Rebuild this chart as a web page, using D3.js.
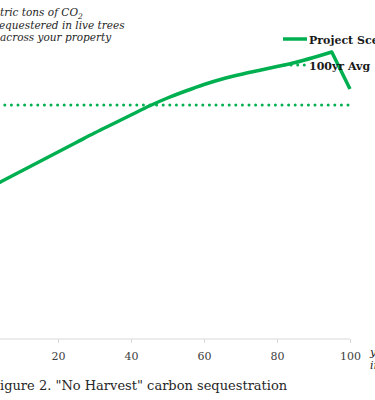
<!DOCTYPE html>
<html lang="en">
  <head>
    <meta charset="utf-8">
    <title>No Harvest carbon sequestration</title>
    <script src="https://d3js.org/d3.v7.js"></script>
    <style>
      body { margin: 0; background: #fff; }
      svg { display: block; }
      text { font-family: Georgia, "DejaVu Serif", serif; }
    </style>
  </head>

  <body>

  <script>

// Data (metric tons of CO2, every 5 years)

  var years = [0, 5, 10, 15, 20, 25, 30, 35, 40, 45, 50, 55, 60, 65, 70, 75, 80, 85, 90, 95, 100];
  var scenario = [2980, 3170, 3360, 3550, 3740, 3930, 4120, 4300, 4480, 4660, 4820,
                  4960, 5090, 5200, 5290, 5370, 5450, 5530, 5630, 5740, 5000];
  var avg100 = 4680;
  var xTicks = [20, 40, 60, 80, 100];
  var legendLabels = ["Project Scenario", "100yr Avg"];

  var w = 375;
  var h = 400;
  var green = "#00b050";

  // the picture is a crop of a wider chart, so the plot starts left of the frame
  var xScale = d3.scaleLinear()
      .domain([0, 100])
      .range([-15, 350]);

  var yScale = d3.scaleLinear()
      .domain([0, 6000])
      .range([339, 39]);

  var svg = d3.select("body")
    .append("svg")
      .attr("width", w)
      .attr("height", h);

// x axis

  var xAxis = d3.axisBottom()
      .scale(xScale)
      .tickValues(xTicks)
      .tickSize(4)
      .tickPadding(9);

  var gx = svg.append("g")
      .attr("class", "xAxis")
      .attr("transform", `translate (0, ${yScale(0)})`)
      .call(xAxis);

  gx.select(".domain")
      .attr("stroke", "#d9d9d9")
      .attr("d", `M${xScale(0)},0H${xScale(100)}`);
  gx.selectAll(".tick line").attr("stroke", "#d9d9d9");
  gx.selectAll(".tick text")
      .attr("fill", "#404040")
      .style("font-size", "11px");

// 100yr average (dotted) and scenario line

  svg.append("line")
      .attr("x1", xScale(0))
      .attr("x2", xScale(100))
      .attr("y1", yScale(avg100))
      .attr("y2", yScale(avg100))
      .attr("stroke", green)
      .attr("stroke-width", 3)
      .attr("stroke-linecap", "round")
      .attr("stroke-dasharray", "0,6.6");

  // smooth growth up to the peak, then a straight drop in the last years
  var n = scenario.length;
  var line = d3.line()
      .x((d, i) => xScale(years[i]))
      .y(d => yScale(d))
      .curve(d3.curveMonotoneX);

  var pathD = line(scenario.slice(0, n - 1)) +
      `L${xScale(years[n - 1])},${yScale(scenario[n - 1])}`;

  svg.append("path")
      .attr("d", pathD)
      .attr("fill", "none")
      .attr("stroke", green)
      .attr("stroke-width", 3.5)
      .attr("stroke-linejoin", "round");

// legend

  var legend = svg.append("g")
      .attr("transform", "translate (283, 39)");

  legend.append("line")
      .attr("x1", 0).attr("x2", 24)
      .attr("y1", 0).attr("y2", 0)
      .attr("stroke", green)
      .attr("stroke-width", 3.5);

  legend.append("line")
      .attr("x1", 1.5).attr("x2", 24)
      .attr("y1", 26).attr("y2", 26)
      .attr("stroke", green)
      .attr("stroke-width", 3)
      .attr("stroke-linecap", "round")
      .attr("stroke-dasharray", "0,6.6");

  legend.selectAll("text.lbl")
      .data(legendLabels)
    .enter().append("text")
      .attr("class", "lbl")
      .attr("x", 26)
      .attr("y", (d, i) => i * 26 + 4.5)
      .attr("fill", "#1a1a1a")
      .style("font-size", "11px")
      .style("font-weight", "bold")
      .text(d => d);

// axis titles

  var yTitle = svg.append("text")
      .attr("fill", "#262626")
      .style("font-size", "10.5px")
      .style("font-style", "italic");

  yTitle.append("tspan").attr("x", -17).attr("y", 16).text("Metric tons of CO");
  yTitle.append("tspan").attr("dy", 3).style("font-size", "7.5px").text("2");
  yTitle.append("tspan").attr("x", -6.5).attr("y", 28.5).text("sequestered in live trees");
  yTitle.append("tspan").attr("x", 0).attr("y", 41).text("across your property");

  var xTitle = svg.append("text")
      .attr("fill", "#262626")
      .style("font-size", "11px")
      .style("font-style", "italic");

  xTitle.append("tspan").attr("x", 370).attr("y", 356).text("years");
  xTitle.append("tspan").attr("x", 370).attr("y", 369).text("into project");

// caption

  svg.append("text")
      .attr("x", -9)
      .attr("y", 390)
      .attr("fill", "#262626")
      .style("font-size", "13px")
      .text("Figure 2. \"No Harvest\" carbon sequestration");

  </script>

  </body>

</html>
